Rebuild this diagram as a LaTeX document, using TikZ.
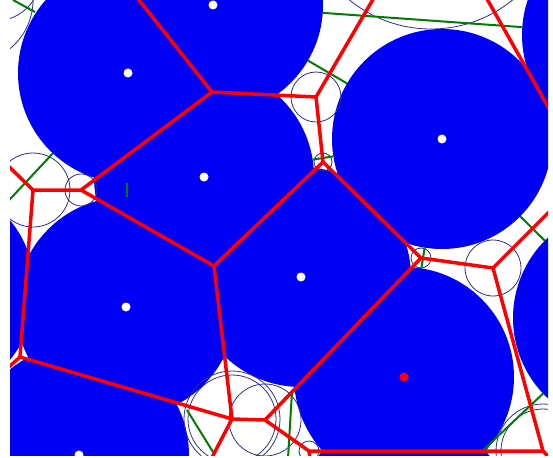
\documentclass[tikz,border=0pt]{standalone}
\usetikzlibrary{calc}
\definecolor{diskblue}{RGB}{0,0,245}
\definecolor{gapgreen}{RGB}{0,125,0}
\definecolor{holeblue}{RGB}{45,45,150}
\begin{document}
\begin{tikzpicture}[x=1pt, y=-1pt,
  cell/.style={red, line width=3.5pt, line join=round},
  gapline/.style={gapgreen, line width=2pt},
  hole/.style={holeblue, line width=0.8pt},
  centre/.style={white}]
  \useasboundingbox (0,0) rectangle (553,457);
  \clip (10,0) rectangle (548,455);
  % disks of equal radius
  \foreach \name/\px/\py in {p1/213/5, p2/128/73, p3/204/177, p4/442/139,
      p5/301/277, p6/126/307, p7/404/377, p8/79/455, p9/632/35,
      p10/623/318, p11/-75/290, p12/404/525} {
    \coordinate (\name) at (\px,\py);
    \fill[diskblue] (\name) circle[radius=110pt];
  }
  % voronoi vertices
  \coordinate (va) at (212,92);
  \coordinate (vb) at (316,97);
  \coordinate (vc) at (323,162);
  \coordinate (vd) at (214,266);
  \coordinate (ve) at (421,258);
  \coordinate (vg) at (81,190);
  \coordinate (vgl) at (33,190);
  \coordinate (vl) at (20,357);
  \coordinate (vh) at (232,419);
  \coordinate (vhr) at (265,420);
  \coordinate (vk) at (309,451);
  \coordinate (vbr) at (543,451);
  \coordinate (vm) at (493,268);
  \coordinate (vt) at (431,-100);
  % free ends beyond the frame
  \coordinate (ea) at (131,-10);
  \coordinate (er) at (560,128);
  \coordinate (eg) at (0,158);
  \coordinate (el) at (0,375);
  \coordinate (eh) at (208,465);
  \coordinate (em) at (560,201);
  \coordinate (ebr) at (560,469);
  \coordinate (ek) at (311,465);
  % empty circles
  \draw[hole] (vgl) circle[radius=37pt];
  \draw[hole] (vg) circle[radius=16pt];
  \draw[hole] (vb) circle[radius=25pt];
  \draw[hole] (vc) circle[radius=9pt];
  \draw[hole] (ve) circle[radius=10pt];
  \draw[hole] (vm) circle[radius=28pt];
  \draw[hole] (vt) circle[radius=129pt];
  \draw[hole] (vk) circle[radius=10pt];
  \draw[hole] (vbr) circle[radius=47pt];
  \draw[hole] (vbr) circle[radius=42pt];
  \draw[hole] (vh) circle[radius=44pt];
  \draw[hole] (vh) circle[radius=48pt];
  \draw[hole] (vhr) circle[radius=36pt];
  \draw[hole] (-30,0) circle[radius=63pt];
  \draw[hole] (-5,-25) circle[radius=46pt];
  % gaps between neighbouring disks
  \foreach \a/\b in {p1/p9, p1/p4, p3/p4, p4/p7, p4/p10, p11/p2, p2/p6, p12/p10}
    \draw[gapline] ($(\a)!110pt!(\b)$) -- ($(\b)!110pt!(\a)$);
  \draw[gapline] (35,12) -- (13,0);
  \draw[gapline] (187,410) -- (213,452);
  \draw[gapline] (292,392) -- (288,458);
  % cell edges
  \draw[cell] (ea) -- (va) -- (vb) -- (vt) -- (er);
  \draw[cell] (va) -- (vg) -- (vgl) -- (eg);
  \draw[cell] (vgl) -- (vl) -- (el);
  \draw[cell] (vb) -- (vc) -- (vd) -- (vg);
  \draw[cell] (vc) -- (ve) -- (vm) -- (em);
  \draw[cell] (vd) -- (vh) -- (eh);
  \draw[cell] (vl) -- (vh) -- (vhr) -- (ve);
  \draw[cell] (vhr) -- (vk) -- (vbr) -- (vm);
  \draw[cell] (vk) -- (ek);
  \draw[cell] (vbr) -- (ebr);
  % centres
  \foreach \name in {p1, p2, p3, p4, p5, p6, p8}
    \fill[centre] (\name) circle[radius=4.5pt];
  \fill[red] (p7) circle[radius=4.5pt];
\end{tikzpicture}
\end{document}
